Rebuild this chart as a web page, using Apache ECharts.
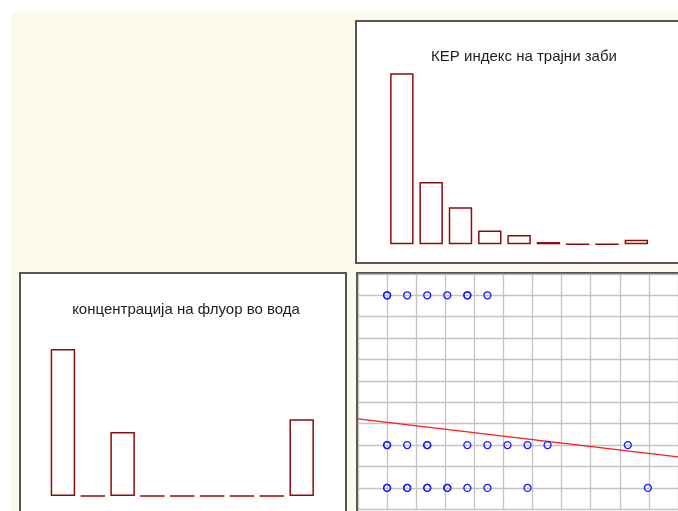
<!DOCTYPE html>
<html>
<head>
<meta charset="utf-8">
<script src="https://cdn.jsdelivr.net/npm/echarts@6/dist/echarts.min.js"></script>
<style>html,body{margin:0;padding:0;background:#fff;}#c{width:678px;height:511px;}</style>
</head>
<body>
<div id="c"></div>
<script>
// ---- data ----
var kepBins = ['1', '2', '3', '4', '5', '6', '7', '8', '9'];
var kepCounts = [74, 27, 16, 6, 4, 1, 0, 0, 2];
var fluorBins = ['1', '2', '3', '4', '5', '6', '7', '8', '9'];
var fluorCounts = [23, 0, 10, 0, 0, 0, 0, 0, 12];
var kepTitle = 'КЕР индекс на трајни заби';
var fluorTitle = 'концентрација на флуор во вода';
// scatter: x = KEP index, y = fluoride concentration
var scatterX = [0, 0, 1, 2, 3, 4, 4, 5,
                0, 0, 1, 2, 2, 4, 5, 6, 7, 8, 12,
                0, 0, 1, 1, 2, 2, 3, 3, 4, 5, 7, 13];
var scatterY = [1.0, 1.0, 1.0, 1.0, 1.0, 1.0, 1.0, 1.0,
                0.3, 0.3, 0.3, 0.3, 0.3, 0.3, 0.3, 0.3, 0.3, 0.3, 0.3,
                0.1, 0.1, 0.1, 0.1, 0.1, 0.1, 0.1, 0.1, 0.1, 0.1, 0.1, 0.1];
var regX = [-1.45, 14.5];
var regY = [0.423, 0.245];

var FONT = 'Liberation Sans, Arial, sans-serif';
var BAR_BORDER = '#8e0d0d';

function pairs(xs, ys) { return xs.map(function (v, i) { return [v, ys[i]]; }); }

var chart = echarts.init(document.getElementById('c'), null, { renderer: 'canvas' });
var hiddenCat = function (idx, data) {
  return { type: 'category', gridIndex: idx, data: data, show: false };
};
var hiddenVal = function (idx, max) {
  return { type: 'value', gridIndex: idx, min: 0, max: max, show: false, splitLine: { show: false } };
};

chart.setOption({
  animation: false,
  backgroundColor: '#ffffff',
  graphic: {
    elements: [
      { type: 'rect', z: -20, silent: true, shape: { x: 11, y: 12, width: 680, height: 520 }, style: { fill: '#fef9ed' } },
      { type: 'rect', z: -10, silent: true, shape: { x: 356, y: 21, width: 340, height: 242 }, style: { fill: '#ffffff', stroke: '#555555', lineWidth: 2 } },
      { type: 'rect', z: -10, silent: true, shape: { x: 20, y: 273, width: 326, height: 260 }, style: { fill: '#ffffff', stroke: '#555555', lineWidth: 2 } },
      { type: 'rect', z: -10, silent: true, shape: { x: 357, y: 273, width: 340, height: 260 }, style: { fill: '#ffffff', stroke: '#555555', lineWidth: 2 } }
    ]
  },
  title: [
    { text: kepTitle, left: 519, top: 44, textAlign: 'center', textStyle: { fontFamily: FONT, fontSize: 15, fontWeight: 'normal', color: '#1e1e1e' } },
    { text: fluorTitle, left: 181, top: 297, textAlign: 'center', textStyle: { fontFamily: FONT, fontSize: 15, fontWeight: 'normal', color: '#1e1e1e' } }
  ],
  grid: [
    { left: 387.2, top: 73.3, width: 263.8, height: 171 },
    { left: 48, top: 349, width: 268.6, height: 147 },
    { left: 358, top: 273.9, width: 322.2, height: 235.4 }
  ],
  xAxis: [
    hiddenCat(0, kepBins),
    hiddenCat(1, fluorBins),
    { type: 'value', gridIndex: 2, min: -1.45, max: 14.5, interval: 1.45,
      axisLine: { show: false }, axisTick: { show: false }, axisLabel: { show: false },
      splitLine: { show: true, lineStyle: { color: '#c4c4c4', width: 1.3 } } }
  ],
  yAxis: [
    hiddenVal(0, 74),
    hiddenVal(1, 23),
    { type: 'value', gridIndex: 2, min: 0, max: 1.1, interval: 0.1,
      axisLine: { show: false }, axisTick: { show: false }, axisLabel: { show: false },
      splitLine: { show: true, lineStyle: { color: '#c4c4c4', width: 1.3 } } }
  ],
  series: [
    { type: 'bar', xAxisIndex: 0, yAxisIndex: 0, data: kepCounts, barCategoryGap: '20%',
      itemStyle: { color: 'rgba(255,255,255,0)', borderColor: BAR_BORDER, borderWidth: 1.5 } },
    { type: 'bar', xAxisIndex: 1, yAxisIndex: 1, data: fluorCounts, barCategoryGap: '18%',
      itemStyle: { color: 'rgba(255,255,255,0)', borderColor: BAR_BORDER, borderWidth: 1.5 } },
    { type: 'line', xAxisIndex: 2, yAxisIndex: 2, data: pairs(regX, regY), symbol: 'none',
      lineStyle: { color: '#ff1a1a', width: 1.3 }, z: 3 },
    { type: 'scatter', xAxisIndex: 2, yAxisIndex: 2, data: pairs(scatterX, scatterY), symbol: 'circle', symbolSize: 7,
      itemStyle: { color: 'rgba(255,255,255,0)', borderColor: '#1a1aff', borderWidth: 1.3, opacity: 1 }, z: 4 }
  ]
});
</script>
</body>
</html>
